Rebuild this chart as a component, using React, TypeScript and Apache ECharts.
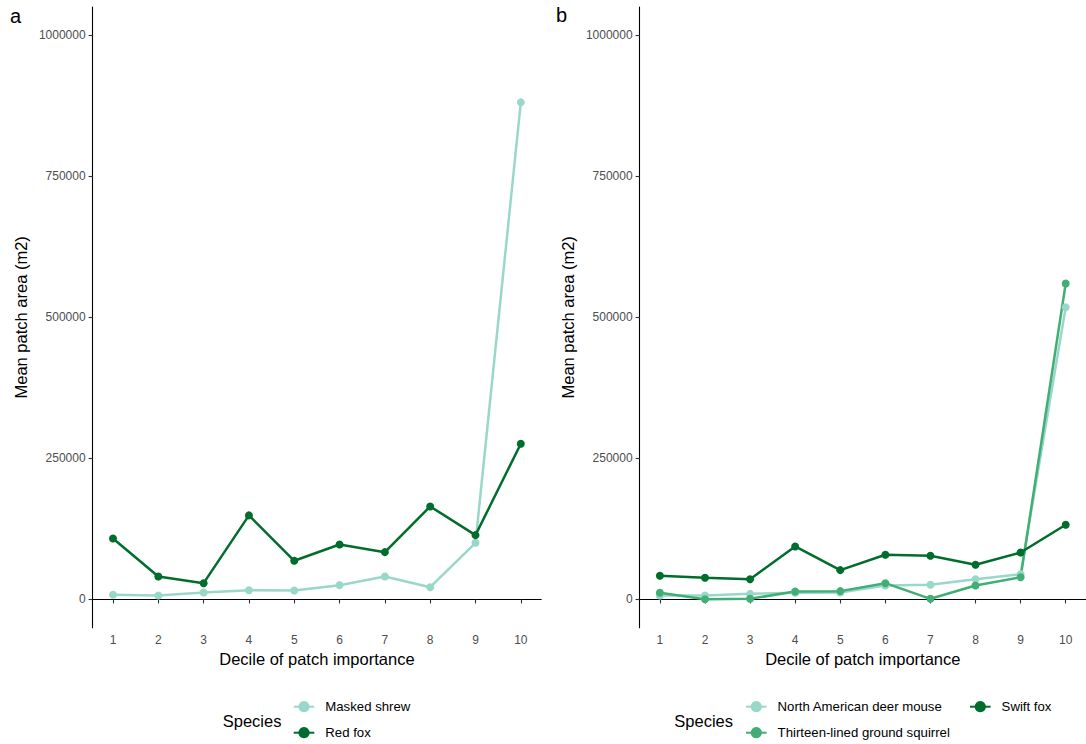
import React, { useEffect, useRef } from "react";
import * as echarts from "echarts";

const DECILES = [1, 2, 3, 4, 5, 6, 7, 8, 9, 10];
const MASKED_SHREW = [8300, 7100, 12400, 16500, 16000, 25400, 40800, 21800, 100500, 881000];
const RED_FOX = [108000, 40800, 28900, 149000, 68600, 97500, 83900, 164900, 114000, 276000];
const DEER_MOUSE = [7100, 7000, 10000, 12000, 12500, 24800, 26000, 36000, 45000, 518000];
const GROUND_SQUIRREL = [11900, 500, 1200, 14200, 14800, 28900, 1200, 24800, 39500, 560000];
const SWIFT_FOX = [42000, 38500, 36000, 94000, 52000, 79200, 77500, 61500, 83300, 132400];
const Y_TICKS = [0, 250000, 500000, 750000, 1000000];

const LIGHT = "#99d8c9";
const MID = "#41ae76";
const DARK = "#006d2c";
const FONT = "Liberation Sans, Arial, sans-serif";

const pairs = (vals: number[]) => DECILES.map((d, i) => [d, vals[i]]);

function xAxis(gridIndex: number) {
  return {
    type: "value",
    gridIndex,
    min: 0.55,
    max: 10.45,
    name: "Decile of patch importance",
    nameLocation: "middle",
    nameGap: 23,
    nameTextStyle: { fontFamily: FONT, fontSize: 16.5, color: "#000" },
    axisLine: { show: true, lineStyle: { color: "#000", width: 1.1 } },
    axisTick: { show: true, length: 4, lineStyle: { color: "#333", width: 1.1 }, customValues: DECILES },
    axisLabel: { customValues: DECILES, margin: 6, fontFamily: FONT, fontSize: 12, color: "#4d4d4d" },
    splitLine: { show: false },
  };
}

function yAxis(gridIndex: number) {
  return {
    type: "value",
    gridIndex,
    min: -50000,
    max: 1050000,
    name: "Mean patch area (m2)",
    nameLocation: "middle",
    nameGap: 63,
    nameTextStyle: { fontFamily: FONT, fontSize: 16.5, color: "#000" },
    axisLine: { show: true, lineStyle: { color: "#000", width: 1.1 } },
    axisTick: { show: true, length: 4, lineStyle: { color: "#333", width: 1.1 }, customValues: Y_TICKS },
    axisLabel: {
      customValues: Y_TICKS,
      margin: 7,
      fontFamily: FONT,
      fontSize: 12,
      color: "#4d4d4d",
      formatter: (v: number) => String(v),
    },
    splitLine: { show: false },
  };
}

function lineSeries(name: string, color: string, vals: number[], idx: number) {
  return {
    name,
    type: "line",
    xAxisIndex: idx,
    yAxisIndex: idx,
    data: pairs(vals),
    symbol: "circle",
    symbolSize: 8,
    showSymbol: true,
    lineStyle: { color, width: 2.5 },
    itemStyle: { color },
    emphasis: { disabled: true },
  };
}

function legendItem(name: string, left: number, centerY: number) {
  return {
    orient: "horizontal",
    left,
    top: centerY - 7,
    padding: 0,
    itemWidth: 20.6,
    itemHeight: 14,
    selectedMode: false,
    data: [name],
    textStyle: { fontFamily: FONT, fontSize: 13.2, color: "#000", lineHeight: 14, padding: [0, 0, 0, 6] },
  };
}

export default function App() {
  const ref = useRef<HTMLDivElement>(null);
  useEffect(() => {
    if (!ref.current) return;
    const chart = echarts.init(ref.current, undefined, { renderer: "svg" });
    chart.setOption({
      animation: false,
      backgroundColor: "#fff",
      grid: [
        { left: 92.6, top: 7, width: 448.6, height: 620.7 },
        { left: 639.6, top: 7, width: 448.6, height: 620.7 },
      ],
      xAxis: [xAxis(0), xAxis(1)],
      yAxis: [yAxis(0), yAxis(1)],
      series: [
        lineSeries("Masked shrew", LIGHT, MASKED_SHREW, 0),
        lineSeries("Red fox", DARK, RED_FOX, 0),
        lineSeries("North American deer mouse", LIGHT, DEER_MOUSE, 1),
        lineSeries("Thirteen-lined ground squirrel", MID, GROUND_SQUIRREL, 1),
        lineSeries("Swift fox", DARK, SWIFT_FOX, 1),
      ],
      legend: [
        legendItem("Masked shrew", 292.7, 706.7),
        legendItem("Red fox", 292.7, 732.7),
        legendItem("North American deer mouse", 745, 706.7),
        legendItem("Thirteen-lined ground squirrel", 745, 732.7),
        legendItem("Swift fox", 969, 706.7),
      ],
      graphic: [
        { type: "text", left: 10, top: 6, style: { text: "a", fontFamily: FONT, fontSize: 20, fill: "#000" } },
        { type: "text", left: 556, top: 5, style: { text: "b", fontFamily: FONT, fontSize: 20, fill: "#000" } },
        { type: "text", left: 222.7, top: 712, style: { text: "Species", fontFamily: FONT, fontSize: 16.5, fill: "#000" } },
        { type: "text", left: 674.3, top: 712, style: { text: "Species", fontFamily: FONT, fontSize: 16.5, fill: "#000" } },
      ],
    });
    return () => chart.dispose();
  }, []);
  return <div ref={ref} style={{ position: "absolute", left: 0, top: 0, width: 1086, height: 744 }} />;
}
